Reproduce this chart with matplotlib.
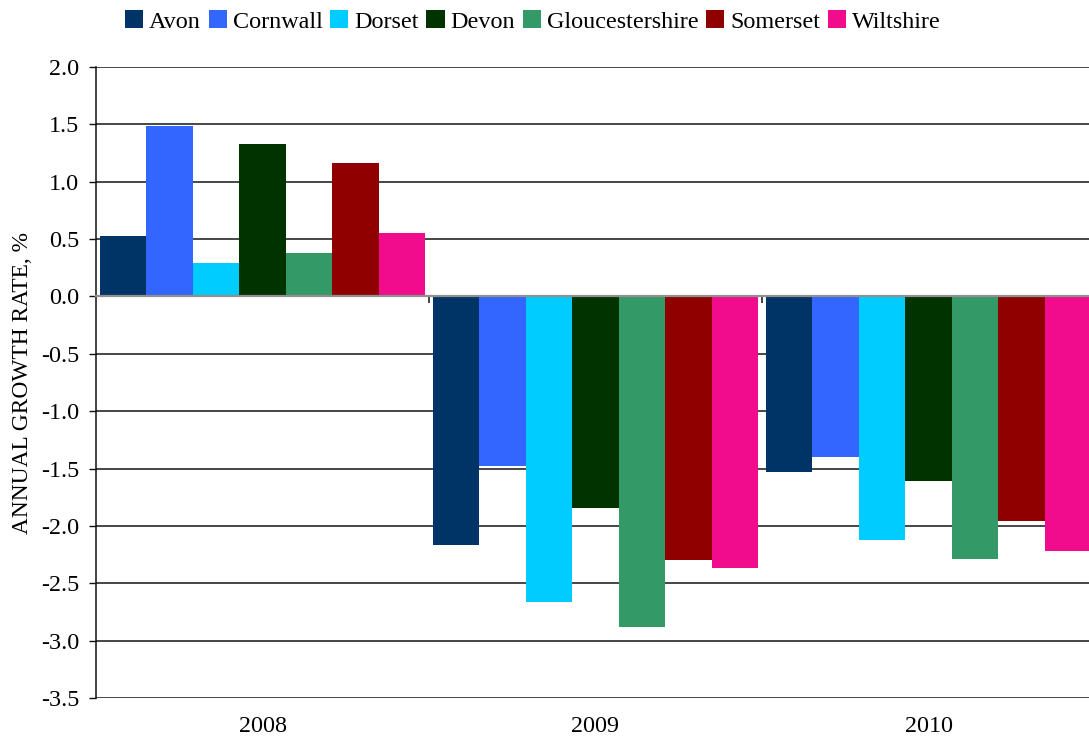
import matplotlib
matplotlib.use("Agg")
import matplotlib.pyplot as plt
import numpy as np

years = ["2008", "2009", "2010"]
counties = ["Avon", "Cornwall", "Dorset", "Devon", "Gloucestershire", "Somerset", "Wiltshire"]
colors = ["#003366", "#3366FF", "#00CCFF", "#003300", "#339966", "#900000", "#F00C8C"]

avon = [0.53, -2.17, -1.53]
cornwall = [1.49, -1.48, -1.40]
dorset = [0.29, -2.66, -2.12]
devon = [1.33, -1.84, -1.61]
gloucestershire = [0.38, -2.88, -2.29]
somerset = [1.16, -2.30, -1.96]
wiltshire = [0.55, -2.37, -2.22]
series = [avon, cornwall, dorset, devon, gloucestershire, somerset, wiltshire]

y_ticks = [2.0, 1.5, 1.0, 0.5, 0.0, -0.5, -1.0, -1.5, -2.0, -2.5, -3.0, -3.5]

plt.rcParams["font.family"] = ["Liberation Serif", "DejaVu Serif"]
FS = 17.4

fig = plt.figure(figsize=(10.89, 7.38), dpi=100)
ax = fig.add_axes([96 / 1089, 1 - 698 / 738, 999 / 1089, 631 / 738])

x = np.arange(len(years))
n = len(counties)
w = 0.976 / n
for j, (name, vals, c) in enumerate(zip(counties, series, colors)):
    ax.bar(x + (j - (n - 1) / 2) * w, vals, width=w, color=c, label=name,
           zorder=2, linewidth=0)

ax.set_xlim(-0.5, len(years) - 0.5)
ax.set_ylim(-3.5, 2.0)
ax.set_yticks(y_ticks)
ax.set_yticklabels([f"{v:.1f}" for v in y_ticks], fontsize=FS)
ax.tick_params(axis="y", direction="out", length=5, width=1, pad=7, color="#111111")

# horizontal gridlines behind the bars
for v in y_ticks:
    if v != 0:
        ax.axhline(v, color="#151515", linewidth=1.1, zorder=1)

# zero axis with separator ticks between year groups
ax.spines["bottom"].set_position(("data", 0))
ax.spines["bottom"].set_color("#909090")
ax.spines["bottom"].set_linewidth(1.6)
ax.spines["bottom"].set_zorder(3)
ax.spines["top"].set_visible(False)
ax.spines["right"].set_visible(False)
ax.spines["left"].set_color("#111111")
ax.spines["left"].set_linewidth(1.1)
ax.set_xticks([0.5, 1.5])
ax.set_xticklabels([])
ax.tick_params(axis="x", direction="out", length=5, width=1.2, color="#222222")

# year labels below the plot area
for i, yr in enumerate(years):
    ax.annotate(yr, xy=(i, -3.5), xytext=(0, -13), textcoords="offset points",
                ha="center", va="top", fontsize=FS, annotation_clip=False)

ax.set_ylabel("ANNUAL GROWTH RATE, %", fontsize=FS - 0.6, labelpad=6)

fig.legend(loc="upper left", bbox_to_anchor=(118 / 1089, 1 - 3 / 738),
           ncol=n, frameon=False, fontsize=FS, handlelength=0.75,
           handleheight=0.75, handletextpad=0.24, columnspacing=0.32,
           borderaxespad=0, borderpad=0.3)

fig.savefig("out.png", dpi=100)
